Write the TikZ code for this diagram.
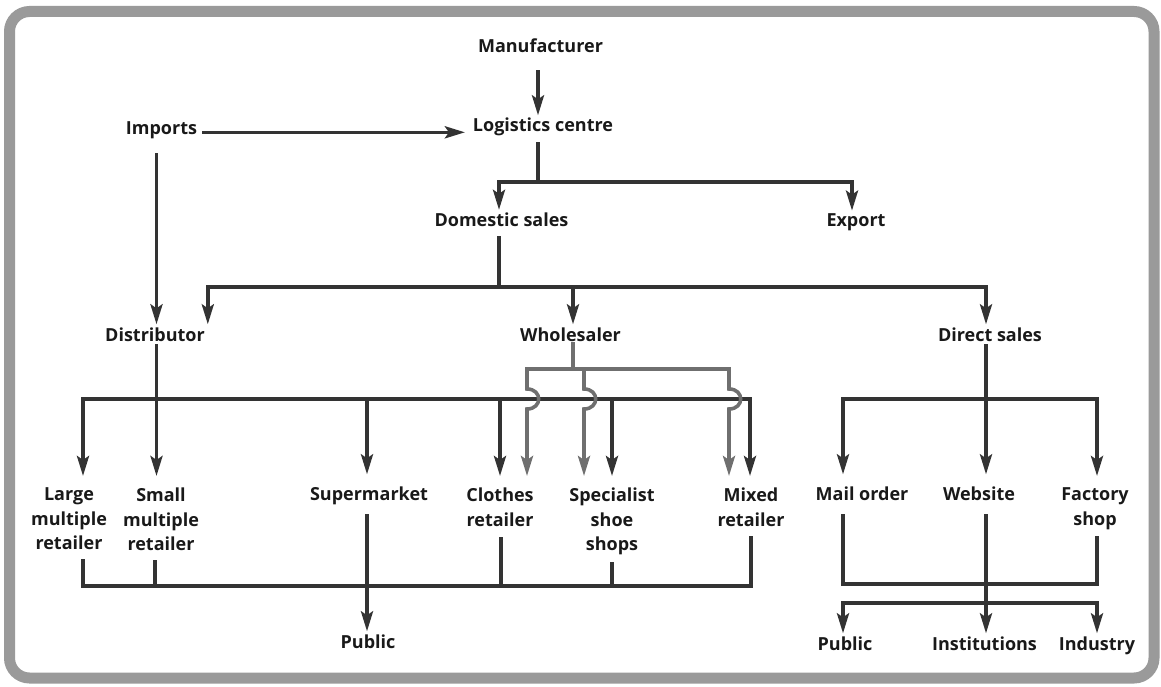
\documentclass[tikz,border=0pt]{standalone}
\usepackage{fontspec}
\setmainfont{Open Sans}
\usetikzlibrary{arrows.meta,calc}
\definecolor{ink}{HTML}{333333}
\definecolor{hub}{HTML}{6F6F6F}
\definecolor{frame}{HTML}{9A9A9A}
\begin{document}
\begin{tikzpicture}[x=1pt,y=-1pt,
  lbl/.style={inner sep=0pt, outer sep=3pt, font=\fontsize{18}{24.5}\selectfont\bfseries, text=black!90, align=center},
  link/.style={draw=ink, line width=3.6pt, line cap=rect, line join=miter},
  tip/.style={link, -{Stealth[length=20pt,width=12pt,inset=4pt]}},
  rowtip/.style={tip, shorten >=9pt},
  glink/.style={link, draw=hub},
  gtip/.style={tip, draw=hub, shorten >=9pt}
]
\useasboundingbox (0,0) rectangle (1161,687);
% outer frame
\draw[frame, line width=11pt, rounded corners=20pt] (9.5,11.5) rectangle (1154,678);

% labels
\node[lbl, anchor=base] (manu) at (540.5,53) {Manufacturer};
\node[lbl, anchor=base] (logi) at (543,132) {Logistics centre};
\node[lbl, anchor=base] (imp) at (161.5,135) {Imports};
\node[lbl, anchor=base] (dom) at (501.5,226.5) {Domestic sales};
\node[lbl, anchor=base] (exp) at (856,226.5) {Export};
\node[lbl, anchor=base] (dist) at (155,341) {Distributor};
\node[lbl, anchor=base] (whole) at (570.5,341) {Wholesaler};
\node[lbl, anchor=base] (direct) at (990,341) {Direct sales};
\node[lbl, anchor=north] (large) at (69,485) {Large\\multiple\\retailer};
\node[lbl, anchor=north] (small) at (161,485) {Small\\multiple\\retailer};
\node[lbl, anchor=base] (super) at (369,500) {Supermarket};
\node[lbl, anchor=north] (clothes) at (500,485) {Clothes\\retailer};
\node[lbl, anchor=north] (spec) at (612,485) {Specialist\\shoe\\shops};
\node[lbl, anchor=north] (mixed) at (751,485) {Mixed\\retailer};
\node[lbl, anchor=base] (mail) at (862,500) {Mail order};
\node[lbl, anchor=base] (web) at (979,500) {Website};
\node[lbl, anchor=north] (fact) at (1095,485) {Factory\\shop};
\node[lbl, anchor=base] (pubL) at (368,648) {Public};
\node[lbl, anchor=base] (pubR) at (845,650) {Public};
\node[lbl, anchor=base] (inst) at (984.5,650) {Institutions};
\node[lbl, anchor=base] (ind) at (1097,650) {Industry};

% bus levels
\coordinate (lvA) at (0,182);
\coordinate (lvB) at (0,287);
\coordinate (lvC) at (0,399);
\coordinate (lvG) at (0,369);
\coordinate (lvD) at (0,586);
\coordinate (lvE) at (0,584);
\coordinate (lvF) at (0,603);

% attachment points beside the label centres
\coordinate (manuS) at ([xshift=-2.5pt]manu.south);
\coordinate (logiN) at ([xshift=-5pt]logi.north);
\coordinate (logiS) at ([xshift=-5pt]logi.south);
\coordinate (domN) at ([xshift=-2.5pt]dom.north);
\coordinate (domS) at ([xshift=-2.5pt]dom.south);
\coordinate (expN) at ([xshift=-4pt]exp.north);
\coordinate (distN) at ([xshift=1.5pt]dist.north);
\coordinate (distS) at ([xshift=1.5pt]dist.south);
\coordinate (wholeN) at ([xshift=2.5pt]whole.north);
\coordinate (wholeS) at ([xshift=2.5pt]whole.south);
\coordinate (directN) at ([xshift=-4pt]direct.north);
\coordinate (directS) at ([xshift=-4pt]direct.south);
\coordinate (largeN) at ([xshift=14pt]large.north);
\coordinate (largeS) at ([xshift=14pt]large.south);
\coordinate (smallN) at ([xshift=-5pt]small.north);
\coordinate (smallS) at ([xshift=-6pt]small.south);
\coordinate (superN) at ([xshift=-2pt]super.north);
\coordinate (superS) at ([xshift=-2pt]super.south);
\coordinate (clothesS) at ([xshift=1pt]clothes.south);
\coordinate (mixedN) at ([xshift=-1pt]mixed.north);
\coordinate (mailN) at ([xshift=-19pt]mail.north);
\coordinate (mailS) at ([xshift=-19pt]mail.south);
\coordinate (webN) at ([xshift=7pt]web.north);
\coordinate (webS) at ([xshift=7pt]web.south);
\coordinate (factN) at ([xshift=2pt]fact.north);
\coordinate (factS) at ([xshift=2pt]fact.south);
\coordinate (pubRN) at ([xshift=-2pt]pubR.north);
\coordinate (instN) at ([xshift=1.5pt]inst.north);

% top of the chain
\draw[tip, shorten <=16pt] (manuS) -- (logiN);
\draw[tip, shorten <=4pt, shorten >=5pt] (imp.mid east) -- (imp.mid east -| logi.mid west);
\draw[link, shorten <=4pt] (logiS) -- (logiS |- lvA);
\draw[tip] (domN |- lvA) -- (expN |- lvA) -- (expN);
\draw[tip] (domN |- lvA) -- (domN);

% domestic sales split
\draw[link, shorten <=8pt] (domS) -- (domS |- lvB);
\draw[tip] (dist.north east |- lvB) -- (directN |- lvB) -- (directN);
\draw[tip] (dist.north east |- lvB) -- (dist.north east);
\draw[tip] (wholeN |- lvB) -- (wholeN);
\draw[tip, shorten <=12pt] (imp.south -| distN) -- (distN);

% distributor channel
\draw[rowtip, shorten <=2pt] (distS) -- (distS |- smallN);
\draw[rowtip] (largeN |- lvC) -- (mixedN |- lvC) -- (mixedN);
\draw[rowtip] (largeN |- lvC) -- (largeN);
\draw[rowtip] (superN |- lvC) -- (superN);
\draw[rowtip] (clothes.north |- lvC) -- (clothes.north);
\draw[rowtip] (spec.north |- lvC) -- (spec.north);

% direct sales channel
\draw[rowtip, shorten <=2pt] (directS) -- (directS |- webN);
\draw[rowtip] (mailN |- lvC) -- (factN |- lvC) -- (factN);
\draw[rowtip] (mailN |- lvC) -- (mailN);

% wholesaler channel (hops over the distributor bus)
\coordinate (g1) at ([xshift=27pt]clothes.north);
\coordinate (g2) at ([xshift=-28pt]spec.north);
\coordinate (g3) at ([xshift=-22pt]mixed.north);
\coordinate (h1) at (g1 |- lvC);
\coordinate (h2) at (g2 |- lvC);
\coordinate (h3) at (g3 |- lvC);
\draw[glink] (wholeS) -- (wholeS |- lvG);
\draw[gtip] (g3 |- lvG) -- (g1 |- lvG) -- ([yshift=10pt]h1) to[out=0,in=0,looseness=2] ([yshift=-10pt]h1) -- (g1);
\draw[gtip] (g2 |- lvG) -- ([yshift=10pt]h2) to[out=0,in=0,looseness=2] ([yshift=-10pt]h2) -- (g2);
\draw[gtip] (g3 |- lvG) -- ([yshift=10pt]h3) to[out=0,in=0,looseness=2] ([yshift=-10pt]h3) -- (g3);

% retail outlets to the public
\draw[link, shorten <=8pt, shorten >=8pt] (largeS) -- (largeS |- lvD) -- (mixed.south |- lvD) -- (mixed.south);
\draw[link, shorten <=8pt] (smallS) -- (smallS |- lvD);
\draw[link, shorten <=9pt] (clothesS) -- (clothesS |- lvD);
\draw[link, shorten <=6pt] (spec.south) -- (spec.south |- lvD);
\draw[tip, shorten <=8pt] (superS) -- (superS |- pubL.north);

% direct outlets to customers
\draw[link, shorten <=13pt, shorten >=5pt] (mailS) -- (mailS |- lvE) -- (factS |- lvE) -- (factS);
\draw[tip, shorten <=13pt] (webS) -- (webS |- instN);
\draw[tip] (pubRN |- lvF) -- (ind.north |- lvF) -- (ind.north);
\draw[tip] (pubRN |- lvF) -- (pubRN);
\end{tikzpicture}
\end{document}
